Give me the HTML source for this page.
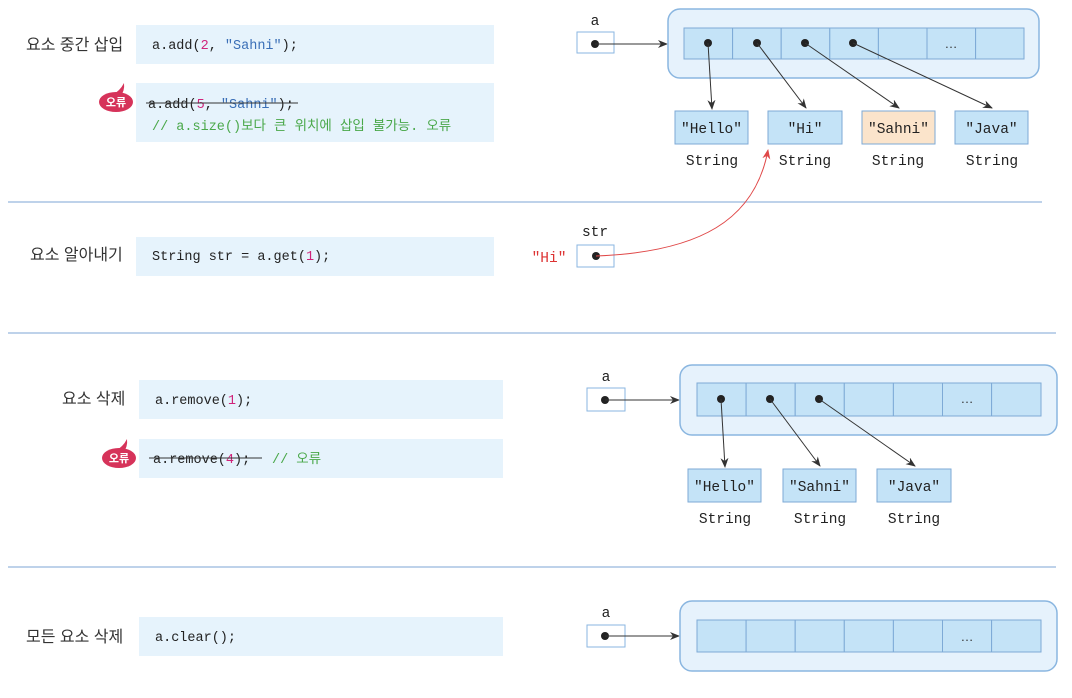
<!DOCTYPE html>
<html><head><meta charset="utf-8"><style>
html,body{margin:0;padding:0;background:#fff;}
svg{display:block;}
.k{font-family:"Liberation Sans","Noto Sans CJK KR",sans-serif;font-size:16px;fill:#333;}
.m{font-family:"Liberation Mono","Noto Sans CJK KR",monospace;font-size:14.5px;fill:#222;}
.cd{font-family:"Liberation Mono","Noto Sans CJK KR",monospace;font-size:13.5px;fill:#222;}
.c{font-family:"Liberation Mono","Noto Sans CJK KR",monospace;font-size:13.5px;fill:#4aa84a;}
.code{fill:#e6f3fc;}
.cell{fill:#c4e3f7;stroke:#7eaad6;stroke-width:1;}
.outer{fill:#e6f2fc;stroke:#8ab6e0;stroke-width:1.5;}
.sbox{fill:#c4e3f7;stroke:#7eaad6;}
.ref{fill:#fff;stroke:#8ab6e0;}
.ln{stroke:#333;stroke-width:1;fill:none;}
</style></head><body>
<svg width="1072" height="698" viewBox="0 0 1072 698" xmlns="http://www.w3.org/2000/svg">
<defs>
<marker id="ar" markerWidth="10" markerHeight="8" refX="9" refY="4" orient="auto" markerUnits="userSpaceOnUse"><path d="M0,0 L10,4 L0,8 L3,4 z" fill="#333"/></marker>
<marker id="rr" markerWidth="10" markerHeight="8" refX="9" refY="4" orient="auto" markerUnits="userSpaceOnUse"><path d="M0,0 L10,4 L0,8 L3,4 z" fill="#e04848"/></marker>
</defs>
<line x1="8" y1="202" x2="1042" y2="202" stroke="#a9c4e4" stroke-width="1.5"/>
<line x1="8" y1="333" x2="1056" y2="333" stroke="#a9c4e4" stroke-width="1.5"/>
<line x1="8" y1="567" x2="1056" y2="567" stroke="#a9c4e4" stroke-width="1.5"/>

<!-- Section 1 -->
<text class="k" x="26" y="50">요소 중간 삽입</text>
<rect class="code" x="136" y="25" width="358" height="39"/>
<text class="cd" x="152" y="49">a.add(<tspan style="fill:#d0237a">2</tspan>, <tspan style="fill:#3a6fb7">"Sahni"</tspan>);</text>
<rect class="code" x="136" y="83" width="358" height="59"/>
<path d="M112,95 q8,-4 12,-12 q1,8 -4,14z" fill="#d6335a"/>
<ellipse cx="116" cy="102" rx="17" ry="10" fill="#d6335a"/>
<text x="116" y="106" text-anchor="middle" font-family="Noto Sans CJK KR,sans-serif" font-size="11" font-weight="bold" fill="#fff">오류</text>
<text class="cd" x="148" y="108">a.add(<tspan style="fill:#d0237a">5</tspan>, <tspan style="fill:#3a6fb7">"Sahni"</tspan>);</text>
<line x1="146" y1="103" x2="298" y2="103" stroke="#333"/>
<text class="c" x="152" y="130">// a.size()보다 큰 위치에 삽입 불가능. 오류</text>

<text class="m" x="595" y="25" text-anchor="middle">a</text>
<rect class="ref" x="577" y="32" width="37" height="21"/>
<circle cx="595" cy="44" r="4" fill="#222"/>
<line class="ln" x1="595" y1="44" x2="667" y2="44" marker-end="url(#ar)"/>
<rect class="outer" x="668" y="9" width="371" height="69" rx="12"/>
<g>
<rect class="cell" x="684" y="28" width="48.6" height="31"/><rect class="cell" x="732.6" y="28" width="48.6" height="31"/><rect class="cell" x="781.2" y="28" width="48.6" height="31"/><rect class="cell" x="829.8" y="28" width="48.6" height="31"/><rect class="cell" x="878.4" y="28" width="48.6" height="31"/><rect class="cell" x="927" y="28" width="48.6" height="31"/><rect class="cell" x="975.6" y="28" width="48.4" height="31"/>
</g>
<text x="951" y="48" text-anchor="middle" font-family="Liberation Sans" font-size="13" fill="#333">…</text>
<circle cx="708" cy="43" r="4" fill="#222"/><circle cx="757" cy="43" r="4" fill="#222"/><circle cx="805" cy="43" r="4" fill="#222"/><circle cx="853" cy="43" r="4" fill="#222"/>
<line class="ln" x1="708" y1="43" x2="712" y2="109" marker-end="url(#ar)"/>
<line class="ln" x1="757" y1="43" x2="806" y2="108" marker-end="url(#ar)"/>
<line class="ln" x1="805" y1="43" x2="899" y2="108" marker-end="url(#ar)"/>
<line class="ln" x1="853" y1="43" x2="992" y2="108" marker-end="url(#ar)"/>
<rect class="sbox" x="675" y="111" width="73" height="33"/><text class="m" x="711.5" y="133" text-anchor="middle">"Hello"</text>
<rect class="sbox" x="768" y="111" width="74" height="33"/><text class="m" x="805" y="133" text-anchor="middle">"Hi"</text>
<rect x="862" y="111" width="73" height="33" fill="#fbe4cb" stroke="#7eaad6"/><text class="m" x="898.5" y="133" text-anchor="middle">"Sahni"</text>
<rect class="sbox" x="955" y="111" width="73" height="33"/><text class="m" x="991.5" y="133" text-anchor="middle">"Java"</text>
<text class="m" x="712" y="165" text-anchor="middle">String</text>
<text class="m" x="805" y="165" text-anchor="middle">String</text>
<text class="m" x="898" y="165" text-anchor="middle">String</text>
<text class="m" x="992" y="165" text-anchor="middle">String</text>

<!-- Section 2 -->
<text class="k" x="30" y="260">요소 알아내기</text>
<rect class="code" x="136" y="237" width="358" height="39"/>
<text class="cd" x="152" y="260">String str = a.get(<tspan style="fill:#d0237a">1</tspan>);</text>
<text class="m" x="595" y="236" text-anchor="middle">str</text>
<text class="m" x="549" y="262" text-anchor="middle" style="fill:#d33">"Hi"</text>
<rect class="ref" x="577" y="245" width="37" height="22"/>
<circle cx="596" cy="256" r="4" fill="#222"/>
<path d="M596,256 C700,252 755,220 768,150" fill="none" stroke="#e04848" stroke-width="1" marker-end="url(#rr)"/>

<!-- Section 3 -->
<text class="k" x="62" y="404">요소 삭제</text>
<rect class="code" x="139" y="380" width="364" height="39"/>
<text class="cd" x="155" y="404">a.remove(<tspan style="fill:#d0237a">1</tspan>);</text>
<rect class="code" x="139" y="439" width="364" height="39"/>
<path d="M115,451 q8,-4 12,-12 q1,8 -4,14z" fill="#d6335a"/>
<ellipse cx="119" cy="458" rx="17" ry="10" fill="#d6335a"/>
<text x="119" y="462" text-anchor="middle" font-family="Noto Sans CJK KR,sans-serif" font-size="11" font-weight="bold" fill="#fff">오류</text>
<text class="cd" x="153" y="463">a.remove(<tspan style="fill:#d0237a">4</tspan>);</text>
<line x1="149" y1="458" x2="262" y2="458" stroke="#333"/>
<text class="c" x="272" y="463">// 오류</text>

<text class="m" x="606" y="381" text-anchor="middle">a</text>
<rect class="ref" x="587" y="388" width="38" height="23"/>
<circle cx="605" cy="400" r="4" fill="#222"/>
<line class="ln" x1="605" y1="400" x2="679" y2="400" marker-end="url(#ar)"/>
<rect class="outer" x="680" y="365" width="377" height="70" rx="12"/>
<g>
<rect class="cell" x="697" y="383" width="49.1" height="33"/><rect class="cell" x="746.1" y="383" width="49.1" height="33"/><rect class="cell" x="795.2" y="383" width="49.1" height="33"/><rect class="cell" x="844.3" y="383" width="49.1" height="33"/><rect class="cell" x="893.4" y="383" width="49.1" height="33"/><rect class="cell" x="942.5" y="383" width="49.1" height="33"/><rect class="cell" x="991.6" y="383" width="49.4" height="33"/>
</g>
<text x="967" y="403" text-anchor="middle" font-family="Liberation Sans" font-size="13" fill="#333">…</text>
<circle cx="721" cy="399" r="4" fill="#222"/><circle cx="770" cy="399" r="4" fill="#222"/><circle cx="819" cy="399" r="4" fill="#222"/>
<line class="ln" x1="721" y1="399" x2="725" y2="467" marker-end="url(#ar)"/>
<line class="ln" x1="770" y1="399" x2="820" y2="466" marker-end="url(#ar)"/>
<line class="ln" x1="819" y1="399" x2="915" y2="466" marker-end="url(#ar)"/>
<rect class="sbox" x="688" y="469" width="73" height="33"/><text class="m" x="724.5" y="491" text-anchor="middle">"Hello"</text>
<rect class="sbox" x="783" y="469" width="73" height="33"/><text class="m" x="819.5" y="491" text-anchor="middle">"Sahni"</text>
<rect class="sbox" x="877" y="469" width="74" height="33"/><text class="m" x="914" y="491" text-anchor="middle">"Java"</text>
<text class="m" x="725" y="523" text-anchor="middle">String</text>
<text class="m" x="820" y="523" text-anchor="middle">String</text>
<text class="m" x="914" y="523" text-anchor="middle">String</text>

<!-- Section 4 -->
<text class="k" x="26" y="642">모든 요소 삭제</text>
<rect class="code" x="139" y="617" width="364" height="39"/>
<text class="cd" x="155" y="641">a.clear();</text>
<text class="m" x="606" y="617" text-anchor="middle">a</text>
<rect class="ref" x="587" y="625" width="38" height="22"/>
<circle cx="605" cy="636" r="4" fill="#222"/>
<line class="ln" x1="605" y1="636" x2="679" y2="636" marker-end="url(#ar)"/>
<rect class="outer" x="680" y="601" width="377" height="70" rx="12"/>
<g>
<rect class="cell" x="697" y="620" width="49.1" height="32"/><rect class="cell" x="746.1" y="620" width="49.1" height="32"/><rect class="cell" x="795.2" y="620" width="49.1" height="32"/><rect class="cell" x="844.3" y="620" width="49.1" height="32"/><rect class="cell" x="893.4" y="620" width="49.1" height="32"/><rect class="cell" x="942.5" y="620" width="49.1" height="32"/><rect class="cell" x="991.6" y="620" width="49.4" height="32"/>
</g>
<text x="967" y="641" text-anchor="middle" font-family="Liberation Sans" font-size="13" fill="#333">…</text>
</svg>
</body></html>
